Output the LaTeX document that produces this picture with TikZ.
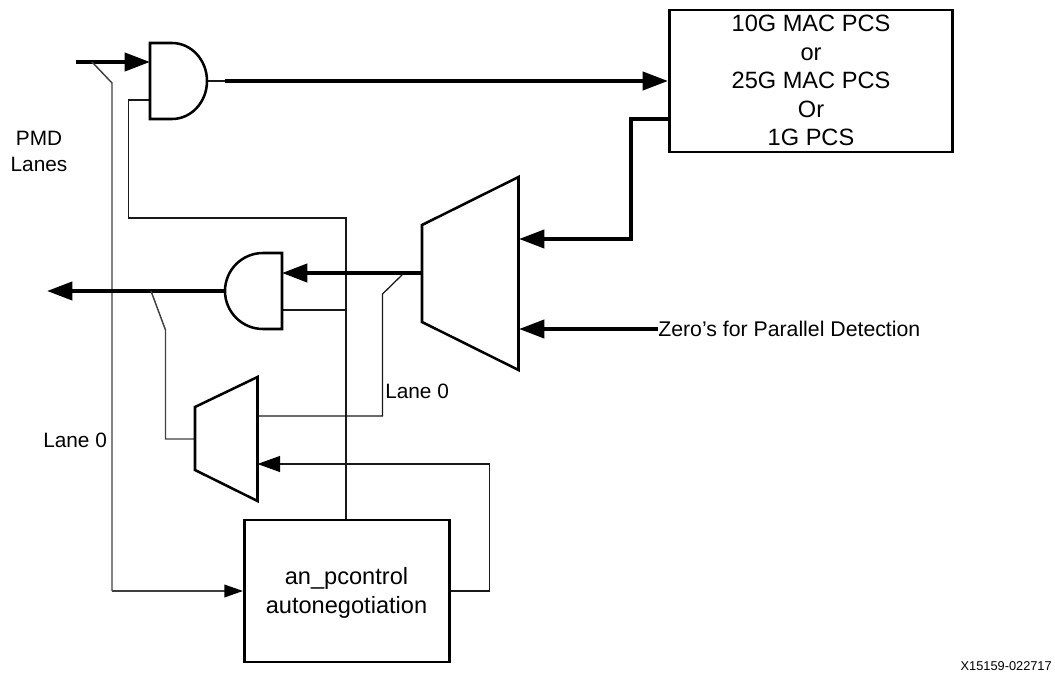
\documentclass[tikz,border=0pt]{standalone}
\usepackage{fontspec}
\setmainfont{Liberation Sans}
\usetikzlibrary{arrows.meta}
\tikzset{
  thickline/.style={line width=3pt,line join=miter},
  thinline/.style={line width=0.95pt,draw=black!90},
  greyline/.style={line width=1.1pt,draw=black!75},
  gate/.style={line width=1.9pt,line join=miter,fill=white},
  bigbox/.style={draw,line width=2pt,fill=white,inner sep=0pt,align=center,font=\fontsize{17.7}{21.4}\selectfont},
  boxtext/.style={font=\fontsize{17.7}{21.4}\selectfont,align=center,inner sep=0pt},
  bighead/.style={-{Triangle[length=19pt,width=13.5pt,color=black]}},
  midhead/.style={-{Triangle[length=17pt,width=12pt,color=black]}},
  smallhead/.style={-{Triangle[length=14pt,width=9.5pt,color=black]}},
  label/.style={inner sep=0pt,font=\fontsize{15.6}{20}\selectfont,align=center},
}
\begin{document}
\begin{tikzpicture}[x=0.75pt,y=-0.75pt]
\useasboundingbox (0,0) rectangle (1055,673);
% free ends and junctions
\coordinate (inA) at (76,62);
\coordinate (andAin) at (150,62);
\coordinate (andAen) at (150,100);
\coordinate (andAout) at (207,81);
\coordinate (andAstub) at (225,81);
\coordinate (tapA) at (92,62);
\coordinate (tapAb) at (112,83);
\coordinate (laneCorner) at (112,591);
\coordinate (enCornerA) at (128.5,100);
\coordinate (enCornerB) at (128.5,218);
\coordinate (enCornerC) at (346,218);
\coordinate (enJoin) at (346,310);
\coordinate (macCornerA) at (630.5,119);
\coordinate (macCornerB) at (630.5,239);
\coordinate (muxAin) at (519,239);
\coordinate (muxAzero) at (519,329);
\coordinate (muxAout) at (422,273);
\coordinate (andBin) at (282,273);
\coordinate (andBen) at (282,310);
\coordinate (andBout) at (225,291);
\coordinate (outEnd) at (47,291);
\coordinate (tapB) at (151,291);
\coordinate (tapBb) at (165.5,330);
\coordinate (tapBc) at (165.5,439);
\coordinate (muxBsel) at (195,439);
\coordinate (tapC) at (403,274);
\coordinate (tapCb) at (382.5,294);
\coordinate (tapCc) at (382.5,416);
\coordinate (muxBtop) at (257.5,416);
\coordinate (muxBbot) at (257.5,464);
\coordinate (fbCornerA) at (489.5,591);
\coordinate (fbCornerB) at (489.5,464);

% nodes
\node[bigbox,minimum width=212.5,minimum height=106.5] (mac) at (811,81) {};
\node[boxtext] (mactext) at (811,80.5) {10G MAC PCS\\or\\25G MAC PCS\\Or\\1G PCS};
\node[bigbox,minimum width=154,minimum height=106.5] (an) at (347,591) {};
\node[boxtext] (antext) at (346.5,593) {an\_pcontrol\\autonegotiation};
\coordinate (macIn) at (mac.west |- andAout);
\coordinate (macOut) at (mac.west |- macCornerA);
\coordinate (anIn) at (an.west |- laneCorner);
\coordinate (anOut) at (an.east |- laneCorner);
\coordinate (anTop) at (an.north -| enJoin);

% connectors
\draw[thickline,bighead] (inA) -- (andAin);
\draw[greyline] (tapA) -- (tapAb) -- (laneCorner);
\draw[greyline,smallhead] (laneCorner) -- (anIn);
\draw[thinline] (andAen) -- (enCornerA) -- (enCornerB) -- (enCornerC) -- (anTop);
\draw[thinline] (andBen) -- (enJoin);
\draw[thinline] (andAout) -- (andAstub);
\draw[thickline,bighead] (andAstub) -- (macIn);
\draw[thickline,bighead] (macOut) -- (macCornerA) -- (macCornerB) -- (muxAin);
\draw[thickline,bighead] (muxAout) -- (andBin);
\draw[thickline,bighead] (andBout) -- (outEnd);
\draw[greyline] (tapB) -- (tapBb) -- (tapBc) -- (muxBsel);
\draw[thinline] (tapC) -- (tapCb) -- (tapCc) -- (muxBtop);
\draw[thinline,midhead] (anOut) -- (fbCornerA) -- (fbCornerB) -- (muxBbot);
\node[anchor=west,label,font=\fontsize{15.95}{20}\selectfont] (zero) at (658,329) {Zero’s for Parallel Detection};
\draw[thickline,bighead] (zero.west) -- (muxAzero);

% gates
\draw[gate] (150,43) -- (172,43) arc[start angle=-90,end angle=90,x radius=35,y radius=38] -- (150,119) -- cycle;
\draw[gate] (282,253) -- (263,253) arc[start angle=270,end angle=90,x radius=38,y radius=38] -- (282,329) -- cycle;
\draw[gate] (422,225) -- (518.5,177) -- (518.5,370) -- (422,322) -- cycle;
\draw[gate] (195,407) -- (257.5,377) -- (257.5,501) -- (195,470) -- cycle;

% labels
\node[label] (pmd) at (39,151.5) {PMD\\Lanes};
\node[label,anchor=west] (laneA) at (43,440) {Lane 0};
\node[label,anchor=west] (laneB) at (385,391) {Lane 0};
\node[inner sep=0pt,anchor=east,font=\fontsize{9.6}{11}\selectfont] (fig) at (1052,666.5) {X15159-022717};
\end{tikzpicture}
\end{document}
